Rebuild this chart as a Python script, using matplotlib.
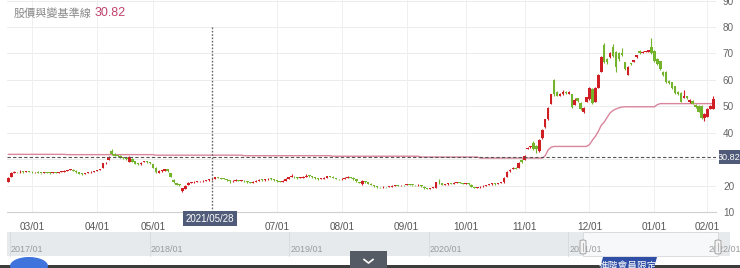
import matplotlib
matplotlib.use("Agg")
import matplotlib.pyplot as plt
from matplotlib.patches import Rectangle, FancyBboxPatch, Polygon, Ellipse
import numpy as np

plt.rcParams['font.family'] = ['Noto Sans CJK TC', 'DejaVu Sans']
NUMFONT = ['Liberation Sans', 'DejaVu Sans']

title_text = "股價與變基準線"
last_value = 30.82
cross_date = "2021/05/28"
cross_idx = 69

opens = [21.4, 23.4, 24.9, 25.2, 25.0, 25.3, 25.1, 25.4, 25.3, 25.0,
         25.1, 24.8, 24.7, 24.9, 24.8, 24.7, 24.9, 24.8, 25.1, 25.3,
         25.5, 25.8, 26.0, 25.6, 25.0, 24.5, 24.3, 24.8, 25.0, 25.3,
         25.5, 25.8, 26.7, 28.4, 29.8, 33.0, 31.9, 31.5, 31.3, 30.8,
         30.6, 29.0, 30.2, 29.3, 28.4, 28.0, 28.9, 29.3, 28.9, 28.2,
         26.8, 24.9, 25.5, 25.6, 26.3, 24.8, 22.2, 21.0, 20.4, 17.8,
         18.8, 20.3, 21.0, 21.2, 21.4, 21.6, 21.6, 21.9, 22.0, 22.3,
         22.6, 23.2, 22.9, 22.7, 22.5, 22.1, 21.6, 21.9, 22.0, 21.9,
         21.9, 21.6, 21.3, 21.0, 21.4, 21.8, 22.2, 22.0, 22.3, 22.6,
         22.4, 22.0, 21.5, 21.4, 21.9, 22.6, 23.2, 23.4, 23.1, 22.8,
         22.9, 23.4, 23.8, 23.6, 23.1, 22.8, 22.4, 22.6, 23.0, 23.6,
         23.4, 22.9, 22.5, 22.3, 22.6, 23.0, 23.3, 23.0, 22.4, 21.3,
         20.5, 21.8, 21.2, 20.7, 20.2, 19.7, 19.4, 19.3, 19.5, 19.4,
         19.6, 19.9, 20.1, 20.1, 20.2, 20.2, 20.5, 20.3, 20.2, 20.1,
         20.3, 19.6, 19.0, 18.8, 19.0, 19.1, 21.0, 20.8, 20.3, 20.5,
         20.8, 20.7, 21.0, 21.2, 21.0, 20.7, 20.9, 20.4, 19.4, 19.1,
         19.3, 19.7, 20.0, 20.2, 20.5, 20.7, 20.6, 20.9, 21.2, 23.3,
         25.5, 26.3, 26.8, 26.7, 29.8, 29.8, 34.0, 34.5, 36.2, 35.0,
         33.0, 38.0, 42.0, 45.0, 51.0, 60.0, 55.5, 54.0, 54.5, 55.5,
         54.8, 54.5, 50.5, 53.0, 51.4, 48.0, 51.8, 52.6, 56.4, 51.8,
         57.0, 63.0, 73.0, 68.0, 68.5, 72.3, 70.4, 70.0, 70.2, 66.6,
         62.0, 66.2, 66.8, 68.5, 71.0, 70.3, 70.6, 70.7, 72.5, 71.0,
         68.0, 67.0, 63.0, 63.0, 59.5, 59.0, 57.5, 55.5, 55.0, 53.2,
         53.8, 51.6, 52.0, 50.5, 50.0, 50.0, 45.4, 46.0, 49.0, 49.0]

closes = [23.0, 24.8, 25.2, 25.0, 25.3, 25.1, 25.4, 25.3, 25.0, 25.1,
          24.8, 24.7, 24.9, 24.8, 24.7, 24.9, 24.8, 25.1, 25.3, 25.5,
          25.8, 26.0, 25.6, 25.0, 24.5, 24.3, 24.8, 25.0, 25.3, 25.5,
          25.8, 26.1, 28.4, 28.6, 30.9, 31.8, 31.2, 31.0, 30.6, 30.4,
          30.0, 30.8, 29.0, 28.3, 28.0, 28.7, 29.2, 28.9, 28.4, 26.8,
          25.0, 25.5, 25.6, 26.2, 25.5, 23.4, 21.2, 20.4, 20.2, 19.0,
          19.9, 21.0, 21.2, 21.5, 21.6, 21.7, 21.8, 22.0, 22.2, 22.6,
          23.2, 23.0, 22.6, 22.5, 22.1, 21.6, 21.9, 22.1, 21.9, 22.0,
          21.6, 21.3, 21.0, 21.4, 21.8, 22.2, 22.0, 22.3, 22.6, 22.4,
          22.0, 21.6, 21.4, 21.9, 22.6, 23.2, 23.4, 23.1, 22.8, 22.9,
          23.4, 23.8, 23.6, 23.2, 22.8, 22.4, 22.6, 22.9, 23.6, 23.4,
          22.9, 22.5, 22.3, 22.6, 23.0, 23.3, 23.0, 22.4, 21.6, 21.0,
          21.9, 21.2, 20.7, 20.3, 19.7, 19.4, 19.3, 19.5, 19.3, 19.6,
          19.9, 20.1, 20.0, 20.2, 20.1, 20.5, 20.4, 20.2, 20.1, 20.3,
          19.7, 19.0, 18.8, 19.0, 19.2, 21.2, 20.8, 20.3, 20.5, 20.8,
          20.7, 21.0, 21.2, 21.0, 20.7, 20.9, 20.5, 19.5, 19.1, 19.3,
          19.6, 20.0, 20.2, 20.5, 20.7, 20.6, 20.9, 21.2, 23.0, 25.2,
          26.0, 26.8, 26.4, 28.6, 28.8, 31.3, 34.4, 34.7, 33.8, 34.0,
          37.4, 41.0, 45.0, 49.5, 54.5, 54.5, 54.0, 54.5, 55.5, 55.0,
          55.3, 49.8, 52.5, 52.0, 49.0, 49.5, 53.4, 57.0, 51.4, 56.8,
          62.0, 68.5, 66.6, 66.6, 70.0, 69.0, 65.0, 67.7, 69.5, 64.0,
          65.0, 65.8, 67.4, 69.3, 70.0, 70.6, 70.6, 71.2, 70.0, 67.0,
          66.0, 64.0, 61.7, 59.0, 58.8, 57.0, 55.0, 54.5, 51.8, 54.0,
          53.0, 52.4, 51.0, 49.8, 48.0, 45.4, 47.0, 49.0, 50.0, 52.6]

highs = [23.2, 25.0, 25.5, 25.3, 25.9, 25.4, 25.6, 25.6, 25.4, 25.3,
         25.6, 24.9, 25.1, 25.0, 25.0, 25.1, 25.0, 25.3, 25.5, 25.7,
         26.0, 26.2, 26.1, 25.7, 25.1, 24.6, 24.9, 25.2, 25.5, 25.6,
         26.0, 26.3, 28.6, 28.8, 31.0, 34.0, 32.2, 31.7, 31.4, 30.9,
         30.7, 31.0, 30.3, 29.4, 28.5, 28.9, 29.4, 29.4, 29.0, 28.3,
         26.9, 25.7, 25.8, 26.4, 26.4, 24.9, 22.3, 21.1, 20.6, 19.2,
         20.1, 21.2, 21.4, 21.7, 21.8, 21.9, 22.0, 22.2, 22.4, 22.8,
         23.4, 23.3, 23.0, 22.8, 22.6, 22.2, 22.1, 22.3, 22.1, 22.2,
         22.0, 21.7, 21.4, 21.6, 22.0, 22.4, 22.3, 22.5, 22.8, 22.7,
         22.5, 22.1, 21.6, 22.1, 22.8, 23.4, 24.2, 23.5, 23.2, 23.1,
         23.6, 24.4, 23.9, 23.7, 23.2, 22.9, 22.8, 23.1, 23.8, 23.7,
         23.5, 23.0, 22.6, 22.8, 23.2, 23.5, 23.4, 23.1, 22.5, 21.4,
         22.2, 21.9, 21.3, 20.8, 20.3, 19.8, 19.5, 19.7, 19.6, 19.8,
         20.1, 20.3, 20.2, 20.4, 20.3, 20.7, 20.6, 20.4, 20.3, 20.5,
         20.4, 19.7, 19.1, 19.2, 19.4, 21.4, 22.3, 20.9, 20.7, 21.0,
         20.9, 21.2, 21.4, 21.3, 21.1, 21.1, 21.0, 20.5, 19.5, 19.5,
         19.8, 20.2, 20.4, 20.7, 20.9, 20.8, 21.1, 21.4, 23.2, 25.4,
         26.2, 27.0, 27.0, 28.8, 30.0, 31.5, 34.5, 35.0, 37.0, 35.5,
         37.6, 41.3, 45.3, 49.8, 54.8, 60.5, 55.8, 55.0, 56.0, 55.8,
         55.6, 54.8, 53.0, 53.3, 51.6, 49.7, 53.6, 57.3, 57.0, 57.2,
         62.3, 69.0, 74.0, 68.4, 70.5, 73.5, 70.8, 70.5, 72.0, 66.9,
         65.3, 66.4, 67.6, 69.5, 71.2, 70.8, 70.9, 71.4, 76.0, 71.2,
         68.3, 67.3, 63.3, 63.2, 59.8, 59.2, 57.8, 55.8, 55.3, 56.0,
         54.0, 52.7, 52.3, 50.8, 50.3, 50.3, 47.3, 49.3, 50.3, 54.0]

lows = [21.2, 23.3, 24.8, 24.8, 24.9, 24.9, 25.0, 25.1, 24.8, 24.8,
        24.7, 24.5, 24.6, 24.6, 24.5, 24.6, 24.6, 24.7, 25.0, 25.2,
        25.4, 25.7, 25.5, 24.9, 24.4, 24.1, 24.2, 24.7, 24.9, 25.2,
        25.4, 25.7, 26.6, 28.2, 29.6, 31.6, 31.0, 30.8, 30.4, 30.2,
        29.8, 28.8, 28.8, 28.1, 27.8, 27.9, 28.8, 28.7, 28.2, 26.6,
        24.8, 24.7, 25.3, 25.5, 25.3, 23.2, 21.0, 20.2, 19.9, 17.5,
        18.6, 20.1, 20.9, 21.1, 21.3, 21.5, 21.5, 21.8, 21.9, 22.2,
        22.5, 22.8, 22.4, 22.3, 21.9, 21.0, 21.5, 21.8, 21.7, 21.8,
        21.4, 21.1, 20.8, 20.9, 21.3, 21.7, 21.8, 21.9, 22.2, 22.2,
        21.8, 21.4, 21.2, 21.3, 21.8, 22.5, 23.1, 22.9, 22.6, 22.7,
        22.8, 23.3, 23.4, 23.0, 22.6, 22.2, 22.3, 22.5, 22.9, 23.2,
        22.7, 22.3, 22.1, 22.2, 22.5, 22.9, 22.8, 22.2, 21.4, 20.8,
        20.3, 21.0, 20.5, 20.1, 19.5, 19.2, 19.1, 19.2, 19.1, 19.3,
        19.5, 19.8, 19.9, 20.0, 19.9, 20.1, 20.2, 20.0, 19.9, 20.0,
        19.5, 18.8, 18.6, 18.7, 18.9, 19.0, 20.6, 20.1, 20.2, 20.4,
        20.5, 20.6, 20.9, 20.8, 20.5, 20.6, 20.3, 19.3, 18.9, 19.0,
        19.2, 19.6, 19.9, 20.1, 20.4, 20.4, 20.5, 20.8, 21.1, 23.2,
        25.3, 26.1, 26.2, 26.6, 28.6, 29.6, 33.9, 34.3, 33.5, 32.5,
        32.8, 37.8, 41.8, 44.8, 50.7, 54.0, 53.7, 53.8, 54.3, 54.7,
        54.5, 49.5, 50.3, 51.8, 48.6, 47.4, 51.5, 52.4, 51.0, 51.5,
        56.8, 62.8, 66.2, 66.0, 68.2, 68.7, 63.0, 67.3, 69.2, 63.7,
        61.7, 65.6, 66.6, 68.3, 69.8, 70.1, 70.4, 70.5, 69.8, 66.8,
        65.7, 63.7, 61.4, 58.7, 58.5, 56.7, 54.7, 54.2, 51.5, 53.0,
        52.8, 51.4, 50.8, 49.5, 47.7, 45.0, 44.5, 45.8, 48.8, 48.8]

baseline = [31.8, 31.8, 31.8, 31.8, 31.8, 31.8, 31.8, 31.8, 31.8, 31.8,
            31.8, 31.8, 31.8, 31.8, 31.8, 31.8, 31.8, 31.8, 31.8, 31.8,
            31.7, 31.7, 31.7, 31.7, 31.7, 31.7, 31.7, 31.7, 31.7, 31.7,
            31.7, 31.7, 31.7, 31.7, 31.7, 31.7, 31.7, 31.7, 31.7, 31.7,
            31.7, 31.7, 31.7, 31.7, 31.7, 31.7, 31.7, 31.7, 31.7, 31.7,
            31.5, 31.5, 31.5, 31.5, 31.5, 31.5, 31.5, 31.5, 31.5, 31.5,
            31.5, 31.5, 31.5, 31.5, 31.5, 31.5, 31.5, 31.5, 31.5, 31.5,
            31.5, 31.5, 31.5, 31.5, 31.5, 31.5, 31.5, 31.5, 31.5, 31.5,
            31.3, 31.3, 31.3, 31.3, 31.3, 31.3, 31.3, 31.3, 31.3, 31.3,
            31.3, 31.3, 31.3, 31.3, 31.3, 31.3, 31.3, 31.3, 31.3, 31.3,
            31.3, 31.3, 31.3, 31.3, 31.3, 31.3, 31.3, 31.3, 31.3, 31.3,
            31.1, 31.1, 31.1, 31.1, 31.1, 31.1, 31.1, 31.1, 31.1, 31.1,
            31.1, 31.1, 31.1, 31.1, 31.1, 31.1, 31.1, 31.1, 31.1, 31.1,
            31.1, 31.1, 31.1, 31.1, 31.1, 31.1, 31.1, 31.1, 31.1, 31.1,
            30.8, 30.8, 30.8, 30.8, 30.8, 30.8, 30.8, 30.8, 30.8, 30.8,
            30.8, 30.8, 30.8, 30.8, 30.8, 30.8, 30.8, 30.8, 30.8, 30.8,
            30.4, 30.4, 30.4, 30.4, 30.4, 30.4, 30.4, 30.4, 30.4, 30.4,
            30.4, 30.4, 30.4, 30.4, 30.4, 30.4, 30.4, 30.4, 30.4, 30.4,
            30.4, 30.4, 31.3, 33.5, 34.5, 34.8, 34.8, 34.8, 34.8, 34.8,
            34.8, 34.8, 34.8, 34.8, 34.8, 34.8, 34.8, 35.5, 37.2, 38.6,
            40.5, 42.8, 44.0, 45.8, 47.5, 48.4, 49.0, 49.4, 49.7, 49.8,
            49.8, 49.8, 49.8, 49.8, 49.8, 49.8, 49.8, 49.8, 49.8, 49.8,
            50.6, 51.0, 51.0, 51.0, 51.0, 51.0, 51.0, 51.0, 51.0, 51.0,
            51.0, 51.0, 51.0, 51.0, 51.0, 51.0, 51.0, 51.0, 51.0, 51.0]

month_labels = ["03/01", "04/01", "05/01", "07/01", "08/01", "09/01",
                "10/01", "11/01", "12/01", "01/01", "02/01"]
month_first_idx = [8, 30, 49, 91, 113, 135, 155, 175, 197, 219, 237]
y_ticks = [10, 20, 30, 40, 50, 60, 70, 80, 90]
nav_years = ["2017/01", "2018/01", "2019/01", "2020/01", "2021/01", "2022/01"]

W, H = 740, 268
fig = plt.figure(figsize=(W / 100, H / 100), dpi=100)

def fx(px):
    return px / W

def fy(py):
    return 1 - py / H

ax = fig.add_axes([fx(7), fy(212), fx(716) - fx(7), 212 / H])
ax.set_xlim(-0.47, 239.9)
ax.set_ylim(10, 90.2)

red = '#cf1e24'
green = '#74b32c'
o = np.array(opens); c = np.array(closes)
hi = np.array(highs); lo = np.array(lows)
idx = np.arange(len(o))
up = c >= o
cols = np.where(up, red, green)
ax.vlines(idx, lo, hi, colors=cols, linewidth=0.8, zorder=3)
body_bottom = np.minimum(o, c)
body_h = np.maximum(np.abs(c - o), 0.3)
ax.bar(idx, body_h, bottom=body_bottom, width=0.85, color=cols, linewidth=0, zorder=4)

ax.plot(idx, baseline, color='#d9859c', linewidth=1.0, zorder=2)

# grid
for yv in y_ticks:
    ax.axhline(yv, color='#ececec', linewidth=0.7, zorder=0)
for mi in month_first_idx:
    ax.axvline(mi, color='#f0f0f0', linewidth=0.7, zorder=0)

# crosshair
ax.axhline(last_value, color='#555555', linewidth=0.8, linestyle=(0, (3, 2)), zorder=5)
ax.vlines(cross_idx, 10, 80.5, color='#666666', linewidth=1.0, linestyle=(0, (1.2, 1.2)), zorder=5)

for s in ['top', 'left', 'right']:
    ax.spines[s].set_visible(False)
ax.spines['bottom'].set_color('#d0d0d0')
ax.spines['bottom'].set_linewidth(0.8)

ax.set_xticks(month_first_idx)
ax.set_xticklabels(month_labels)
ax.tick_params(axis='x', length=0, pad=7, labelsize=7.2, labelcolor='#555555')
ax.yaxis.tick_right()
ax.set_yticks(y_ticks)
# the 30 label is hidden behind the last-value box in the reference
ax.set_yticklabels(["" if v == 30 else str(v) for v in y_ticks])
ax.tick_params(axis='y', length=0, pad=5, labelsize=7.2, labelcolor='#666666')
for lab in ax.get_yticklabels():
    lab.set_family(NUMFONT)
for lab in ax.get_xticklabels():
    lab.set_family(NUMFONT)

# value label box
fig.patches.append(Rectangle((fx(719), fy(164)), 21 / W, 14 / H, transform=fig.transFigure,
                             fc='#4f5b78', ec='none', zorder=9))
fig.text(fx(729.5), fy(157), f"{last_value:.2f}", ha='center', va='center', fontsize=6.6,
         color='white', family=NUMFONT, zorder=10)
fig.text(fx(210), fy(218.5), cross_date, ha='center', va='center', fontsize=7,
         color='white', family=NUMFONT, zorder=10,
         bbox=dict(boxstyle='square,pad=0.25', fc='#4f5b78', ec='none'))

# title
fig.text(fx(14), fy(13), title_text, ha='left', va='center', fontsize=8, color='#888888')
fig.text(fx(95), fy(13), f"{last_value:.2f}", ha='left', va='center', fontsize=9,
         color='#c0436c', family=NUMFONT)

# navigator
fig.patches.append(Rectangle((fx(7), fy(256)), fx(730) - fx(7), (256 - 232) / H,
                             transform=fig.transFigure, fc='#e7eaed', ec='none', zorder=1))
fig.patches.append(Rectangle((fx(583), fy(256)), fx(718) - fx(583), (256 - 232) / H,
                             transform=fig.transFigure, fc='#f7f8f9', ec='#d5d8dc', lw=0.6, zorder=2))
for k, yl in enumerate(nav_years):
    xp = 10 + k * 139.6
    fig.lines.append(plt.Line2D([fx(xp), fx(xp)], [fy(256), fy(232)], transform=fig.transFigure,
                                color='#d6d9dd', linewidth=0.6, zorder=2))
    fig.text(fx(xp + 1), fy(250), yl, ha='left', va='center', fontsize=6.5, color='#9a9a9a',
             family=NUMFONT, zorder=3)
for hx in (583, 718):
    fig.patches.append(FancyBboxPatch((fx(hx - 3), fy(254)), 6 / W, 14 / H,
                                      boxstyle='round,pad=0,rounding_size=0.004',
                                      transform=fig.transFigure, fc='#f2f2f2', ec='#999999',
                                      lw=0.6, zorder=4))
    fig.lines.append(plt.Line2D([fx(hx), fx(hx)], [fy(251), fy(243)], transform=fig.transFigure,
                                color='#999999', linewidth=0.5, zorder=5))

# bottom bar and widgets
fig.patches.append(Rectangle((0, 0), 1, 3 / H, transform=fig.transFigure, fc='#3c3c3c',
                             ec='none', zorder=3))
fig.patches.append(Ellipse((fx(29), fy(266)), 38 / W, 18 / H, transform=fig.transFigure,
                           fc='#3f74dc', ec='none', zorder=4))
fig.patches.append(Rectangle((fx(350), 0), 37 / W, 17 / H, transform=fig.transFigure,
                             fc='#555b64', ec='none', zorder=5))
fig.lines.append(plt.Line2D([fx(364), fx(368.5), fx(373)], [fy(259.5), fy(263), fy(259.5)],
                            transform=fig.transFigure, color='white', linewidth=1.2, zorder=6))
fig.patches.append(Polygon([(fx(600), fy(268)), (fx(603), fy(257)), (fx(657), fy(257)),
                            (fx(654), fy(268))], closed=True, transform=fig.transFigure,
                           fc='#2f4ea6', ec='none', zorder=5))
fig.text(fx(628), fy(266), "進階會員限定", ha='center', va='center', fontsize=7,
         color='white', zorder=6)

fig.savefig("out.png", dpi=100)
